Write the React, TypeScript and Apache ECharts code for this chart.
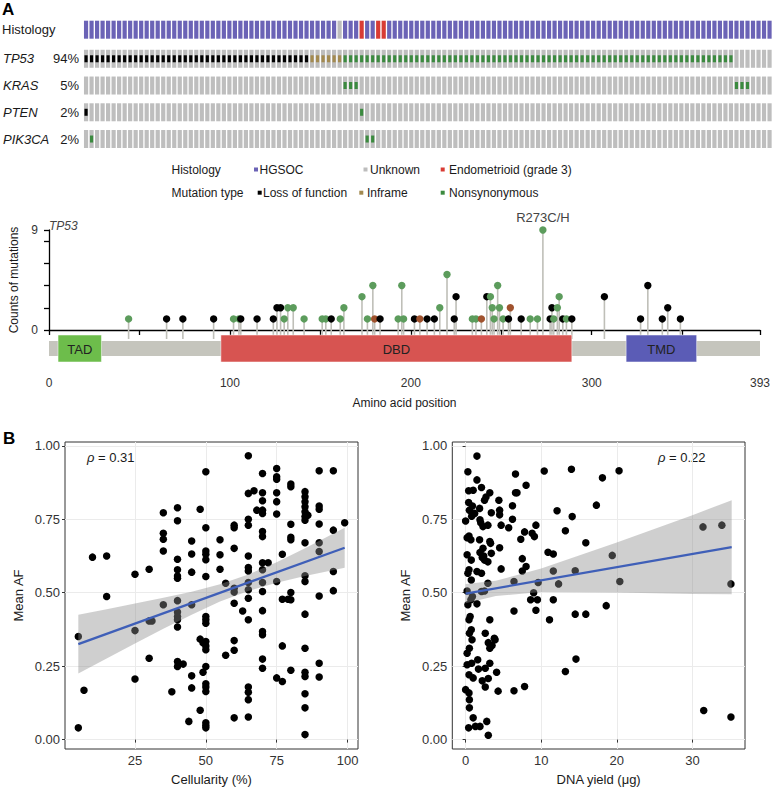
import React, { useEffect, useRef } from 'react';
import * as echarts from 'echarts';

const FONT = '"Liberation Sans", Arial, Helvetica, sans-serif';

// ---------------- Panel A (top): oncoprint ----------------
const geneNames = ['TP53', 'KRAS', 'PTEN', 'PIK3CA'];
// run-length encoded per-sample annotations (H = HGSOC, U = Unknown, E = Endometrioid grade 3)
const histologyRuns: [string, number][] = [['H', 46], ['U', 1], ['H', 3], ['E', 1], ['H', 2], ['E', 2], ['H', 70]];
// L = loss of function, I = inframe, N = nonsynonymous, '-' = not mutated
const tp53Runs: [string, number][] = [['L', 41], ['I', 6], ['N', 71], ['-', 7]];
const krasRuns: [string, number][] = [['-', 47], ['N', 3], ['-', 68], ['N', 3], ['-', 4]];
const ptenRuns: [string, number][] = [['L', 1], ['-', 49], ['N', 1], ['-', 74]];
const pik3caRuns: [string, number][] = [['-', 1], ['N', 1], ['-', 49], ['N', 2], ['-', 72]];

const histologyKeys = ['H', 'U', 'E'];
const histologyLabels = ['HGSOC', 'Unknown', 'Endometrioid (grade 3)'];
const mutationKeys = ['L', 'I', 'N'];
const mutationLabels = ['Loss of function', 'Inframe', 'Nonsynonymous'];
const histologyColors = ['#6b63b6', '#bdbdbd', '#d83b34'];
const mutationColors = ['#000000', '#a38a50', '#3b8a3f'];

// ---------------- Panel A (bottom): TP53 lollipop ----------------
const proteinLength = 393;
const domainNames = ['TAD', 'DBD', 'TMD'];
const domainStarts = [5, 95, 319];
const domainEnds = [29, 289, 358];
const domainColors = ['#6dbd4b', '#d75451', '#5b5cb6'];
// [amino acid position, count, type]
const tp53Mutations: [number, number, string][] = [
  [44, 1, 'N'], [65, 1, 'L'], [74, 1, 'L'], [91, 1, 'L'], [102, 1, 'N'], [105, 1, 'N'], [106, 1, 'L'],
  [115, 1, 'L'], [124, 1, 'L'], [126, 2, 'L'], [128, 2, 'L'], [130, 1, 'N'], [132, 2, 'N'], [135, 2, 'N'],
  [141, 1, 'N'], [151, 1, 'N'], [153, 1, 'N'], [156, 1, 'L'], [161, 1, 'N'], [163, 2, 'N'], [173, 3, 'N'],
  [176, 1, 'N'], [179, 4, 'N'], [180, 1, 'I'], [183, 1, 'L'], [193, 1, 'N'], [195, 4, 'N'], [196, 1, 'N'],
  [202, 1, 'L'], [205, 1, 'I'], [209, 1, 'L'], [213, 1, 'L'], [216, 2, 'N'], [220, 5, 'N'], [224, 1, 'L'],
  [225, 3, 'L'], [234, 1, 'N'], [236, 1, 'N'], [239, 1, 'I'], [242, 3, 'L'], [244, 3, 'N'], [245, 2, 'N'],
  [246, 1, 'N'], [248, 4, 'N'], [249, 2, 'N'], [251, 1, 'N'], [254, 1, 'L'], [255, 2, 'I'], [261, 1, 'L'],
  [266, 1, 'N'], [270, 1, 'N'], [273, 9, 'N'], [277, 1, 'L'], [278, 2, 'L'], [279, 1, 'N'], [281, 2, 'N'],
  [282, 3, 'N'], [284, 1, 'L'], [286, 1, 'N'], [289, 1, 'L'], [307, 3, 'L'], [327, 1, 'L'], [331, 4, 'L'],
  [339, 1, 'L'], [342, 2, 'L'], [349, 1, 'L'],
];
const lollipopColors = ['#000000', '#a0522d', '#5c9c5c'];
const hotspotLabels: [number, number, string][] = [[273, 9, 'R273C/H']];
const aaTicks = [0, 50, 100, 150, 200, 250, 300, 350, 393];
const aaLabels = [0, 100, 200, 300, 393];
const countTicks = [0, 2, 4, 6, 8, 9];
const countLabels = [0, 9];

// ---------------- Panel B: scatter plots ----------------
const cellularityGroups: [number, number[]][] = [
  [5, [0.351, 0.04]],
  [7, [0.168]],
  [10, [0.621]],
  [15, [0.625, 0.487]],
  [25, [0.563, 0.371, 0.206]],
  [30, [0.58, 0.404, 0.277]],
  [31, [0.404]],
  [35, [0.772, 0.702, 0.682, 0.642, 0.459]],
  [38, [0.163]],
  [40, [0.789, 0.745, 0.614, 0.578, 0.557, 0.549, 0.473, 0.434, 0.419, 0.408, 0.383, 0.266, 0.249]],
  [42, [0.257]],
  [44, [0.062]],
  [45, [0.676, 0.632, 0.57, 0.459, 0.217, 0.176]],
  [48, [0.784, 0.342, 0.1]],
  [49, [0.229, 0.33]],
  [50, [0.912, 0.721, 0.642, 0.631, 0.612, 0.555, 0.419, 0.408, 0.396, 0.334, 0.319, 0.306, 0.249, 0.19, 0.179, 0.164, 0.057, 0.048, 0.04]],
  [55, [0.68, 0.629, 0.58]],
  [57, [0.532, 0.287]],
  [60, [0.73, 0.721, 0.651, 0.515, 0.502, 0.464, 0.337, 0.304, 0.074]],
  [63, [0.438]],
  [65, [0.966, 0.838, 0.75, 0.73, 0.625, 0.586, 0.574, 0.535, 0.51, 0.481, 0.408, 0.179, 0.161, 0.136, 0.077]],
  [67, [0.847]],
  [68, [0.781]],
  [70, [0.906, 0.84, 0.813, 0.781, 0.77, 0.708, 0.691, 0.602, 0.578, 0.535, 0.504, 0.439, 0.368, 0.357, 0.274, 0.243]],
  [72, [0.602]],
  [75, [0.923, 0.895, 0.886, 0.84, 0.81, 0.768, 0.538, 0.21]],
  [77, [0.631, 0.478, 0.319, 0.198]],
  [79, [0.478]],
  [80, [0.87, 0.861, 0.733, 0.689, 0.68, 0.501, 0.476, 0.236]],
  [85, [0.844, 0.827, 0.81, 0.793, 0.776, 0.759, 0.747, 0.67, 0.558, 0.538, 0.427, 0.311, 0.229, 0.215, 0.156, 0.108, 0.017]],
  [86, [0.764]],
  [90, [0.915, 0.795, 0.784, 0.734, 0.67, 0.64, 0.489, 0.26, 0.213]],
  [95, [0.915, 0.713, 0.572, 0.507]],
  [99, [0.738]],
];
const cellularityFit: [number, number][] = [[5, 0.325], [99, 0.653]];
const cellularityBandX = [5, 15, 25, 35, 45, 55, 65, 75, 85, 99];
const cellularityBandLow = [0.225, 0.276, 0.327, 0.377, 0.425, 0.47, 0.506, 0.534, 0.557, 0.585];
const cellularityBandHigh = [0.425, 0.444, 0.463, 0.483, 0.503, 0.529, 0.562, 0.604, 0.651, 0.721];

const dnaYieldPoints: [number, number][] = [
  [0.0, 0.744], [0.3, 0.912], [0.4, 0.847], [0.4, 0.807], [0.5, 0.781], [0.2, 0.687], [0.45, 0.693], [0.2, 0.629],
  [0.3, 0.566], [0.45, 0.578], [0.2, 0.506], [0.3, 0.459], [0.45, 0.408], [0.5, 0.362], [0.5, 0.311], [0.2, 0.294],
  [0.2, 0.255], [0.45, 0.221], [0.0, 0.17], [0.45, 0.159], [0.5, 0.136], [0.5, 0.108], [0.4, 0.04],
  [1.0, 0.849], [0.9, 0.795], [1.2, 0.77], [0.8, 0.76], [0.7, 0.68], [0.75, 0.611], [0.75, 0.543], [0.9, 0.487],
  [0.7, 0.476], [0.6, 0.419], [0.75, 0.374], [0.85, 0.34], [0.8, 0.26], [1.0, 0.21], [1.0, 0.074], [1.3, 0.045],
  [1.5, 0.965], [1.5, 0.884], [1.5, 0.572], [1.5, 0.462], [1.6, 0.272], [1.7, 0.24], [1.85, 0.787], [1.85, 0.68],
  [2.1, 0.858], [1.9, 0.748], [2.0, 0.738], [1.9, 0.637], [2.1, 0.566], [2.1, 0.504], [2.2, 0.62], [2.2, 0.2],
  [1.9, 0.045], [2.3, 0.725], [2.3, 0.651], [2.4, 0.625], [2.5, 0.815], [2.5, 0.611], [2.5, 0.506], [2.6, 0.362],
  [2.6, 0.243], [2.6, 0.179], [2.7, 0.826], [2.8, 0.062], [2.95, 0.73], [2.95, 0.532], [2.95, 0.605], [3.0, 0.33],
  [3.0, 0.208], [3.0, 0.015], [3.2, 0.84], [3.2, 0.674], [3.2, 0.408], [3.2, 0.311], [3.2, 0.26], [3.3, 0.668],
  [3.4, 0.772], [3.4, 0.634], [3.5, 0.32], [3.8, 0.345], [3.9, 0.34], [4.1, 0.229], [4.3, 0.165], [4.4, 0.815],
  [4.5, 0.781], [4.5, 0.765], [4.5, 0.653], [4.7, 0.73], [4.7, 0.581],
  [5.7, 0.721], [6.2, 0.796], [6.2, 0.75], [6.4, 0.438], [6.4, 0.538], [6.4, 0.166], [6.6, 0.904], [6.6, 0.84],
  [6.8, 0.84], [7.3, 0.682], [7.5, 0.616], [7.5, 0.574], [7.8, 0.707], [7.8, 0.181], [8.0, 0.866], [8.0, 0.589],
  [8.6, 0.476], [8.8, 0.702], [9.0, 0.5], [9.1, 0.691], [9.3, 0.73], [9.3, 0.44], [9.5, 0.476], [9.6, 0.535],
  [10.4, 0.914], [10.9, 0.638], [11.1, 0.408], [11.6, 0.574], [11.6, 0.632], [11.6, 0.476], [12.1, 0.779],
  [12.3, 0.53], [13.2, 0.711], [13.2, 0.232], [14.0, 0.92], [14.1, 0.759], [14.5, 0.575], [14.5, 0.427],
  [14.6, 0.274], [15.9, 0.67], [15.9, 0.427], [17.3, 0.798], [18.1, 0.891], [18.6, 0.456], [19.4, 0.627],
  [20.3, 0.915], [20.4, 0.538], [31.4, 0.724], [31.5, 0.099], [33.9, 0.73], [35.1, 0.53], [35.1, 0.077],
];
const dnaYieldFit: [number, number][] = [[0, 0.497], [35.2, 0.655]];
const dnaYieldBandX = [0, 4, 10, 20, 30, 35.2];
const dnaYieldBandLow = [0.464, 0.489, 0.502, 0.501, 0.496, 0.495];
const dnaYieldBandHigh = [0.53, 0.541, 0.582, 0.671, 0.764, 0.815];

const afTicks = [0, 0.25, 0.5, 0.75, 1];
const cellularityTicks = [25, 50, 75, 100];
const dnaYieldTicks = [0, 10, 20, 30];

function expandRuns(runs: [string, number][]): string[] {
  const out: string[] = [];
  runs.forEach(([code, n]) => {
    for (let i = 0; i < n; i++) out.push(code);
  });
  return out;
}

function buildOption(): any {
  const histCodes = expandRuns(histologyRuns);
  const geneCodes = [tp53Runs, krasRuns, ptenRuns, pik3caRuns].map(expandRuns);
  const sampleIds = histCodes.map((_, i) => String(i));
  const histData = histCodes.map((c, i) => [i, 0, histologyKeys.indexOf(c)]);
  const geneData: number[][] = [];
  geneCodes.forEach((codes, r) => codes.forEach((c, i) => geneData.push([i, r, mutationKeys.indexOf(c)])));
  const pct = geneCodes.map((codes) => Math.round((100 * codes.filter((c) => c !== '-').length) / codes.length) + '%');

  const lolliData = tp53Mutations.map(([p, n, t]) => [p, n, mutationKeys.indexOf(t)]);
  const cellPoints: number[][] = [];
  cellularityGroups.forEach(([x, ys]) => ys.forEach((y) => cellPoints.push([x, y])));

  const txt = (text: string, x: number, y: number, extra: any = {}) => ({
    type: 'text',
    x,
    y,
    style: { text, fontFamily: FONT, fontSize: 13, fill: '#1a1a1a', align: 'left', verticalAlign: 'middle', ...extra },
  });

  const onco = (data: number[][], isHist: boolean, gridX: number, gridY: number) => ({
    type: 'custom',
    xAxisIndex: gridX,
    yAxisIndex: gridY,
    data,
    renderItem: (params: any, api: any) => {
      const col = api.value(0);
      const row = api.value(1);
      const code = api.value(2);
      const c = api.coord([col, row]);
      const s = api.size([1, 1]);
      const w = s[0] * 0.76;
      const h = 18;
      const children: any[] = [
        {
          type: 'rect',
          shape: { x: c[0] - w / 2, y: c[1] - h / 2, width: w, height: h },
          style: { fill: isHist ? histologyColors[code] : '#bebebe' },
        },
      ];
      if (!isHist && code >= 0) {
        children.push({
          type: 'rect',
          shape: { x: c[0] - 1.6, y: c[1] - 3.5, width: 3.2, height: 7 },
          style: { fill: mutationColors[code] },
        });
      }
      return { type: 'group', children };
    },
  });

  const legendEls: any[] = [];
  const histLegendX = [[254, 259.5], [363.5, 370], [440.7, 449]];
  const mutLegendX = [[257.7, 263], [359.3, 367], [440.7, 449]];
  legendEls.push(txt('Histology', 171.5, 169.5, { fontSize: 12 }));
  legendEls.push(txt('Mutation type', 171.5, 192.7, { fontSize: 12 }));
  histologyLabels.forEach((l, i) => {
    legendEls.push({ type: 'rect', shape: { x: histLegendX[i][0], y: 167.5, width: 4, height: 4 }, style: { fill: histologyColors[i] } });
    legendEls.push(txt(l, histLegendX[i][1], 169.5, { fontSize: 12 }));
  });
  mutationLabels.forEach((l, i) => {
    legendEls.push({ type: 'rect', shape: { x: mutLegendX[i][0], y: 190.7, width: 4, height: 4 }, style: { fill: mutationColors[i] } });
    legendEls.push(txt(l, mutLegendX[i][1], 192.7, { fontSize: 12 }));
  });

  const scatterAxisCommon = {
    axisLine: { show: false },
    axisTick: { show: true, length: 3, lineStyle: { color: '#333', width: 1 } },
    axisLabel: { fontFamily: FONT, fontSize: 13, color: '#333', margin: 5 },
    splitLine: { show: true, lineStyle: { color: '#ebebeb', width: 1 } },
    nameTextStyle: { fontFamily: FONT, fontSize: 13, color: '#1a1a1a' },
    nameLocation: 'middle',
  };

  const band = (xs: number[], lo: number[], hi: number[], gi: number) => ({
    type: 'custom',
    xAxisIndex: gi,
    yAxisIndex: gi,
    data: [[xs[0], lo[0]]],
    clip: true,
    z: 3,
    renderItem: (params: any, api: any) => {
      const pts: number[][] = [];
      xs.forEach((x, i) => pts.push(api.coord([x, hi[i]])));
      for (let i = xs.length - 1; i >= 0; i--) pts.push(api.coord([xs[i], lo[i]]));
      return { type: 'polygon', shape: { points: pts }, style: { fill: '#8c8c8c', opacity: 0.42 } };
    },
  });

  return {
    animation: false,
    backgroundColor: '#ffffff',
    textStyle: { fontFamily: FONT },
    grid: [
      { left: 83.3, top: 16.2, width: 689, height: 27 },
      { left: 83.3, top: 45.4, width: 689, height: 107 },
      { left: 44, top: 230, width: 718, height: 100 },
      { left: 65, top: 442, width: 293, height: 307, show: true, borderColor: '#333', borderWidth: 1 },
      { left: 452.3, top: 442, width: 292.7, height: 307, show: true, borderColor: '#333', borderWidth: 1 },
    ],
    xAxis: [
      { gridIndex: 0, type: 'category', data: sampleIds, show: false },
      { gridIndex: 1, type: 'category', data: sampleIds, show: false },
      {
        gridIndex: 2,
        type: 'value',
        min: 0,
        max: proteinLength,
        offset: 39,
        axisLine: { show: true, lineStyle: { color: '#000', width: 1.3 } },
        axisTick: { show: true, customValues: aaTicks, length: 5, lineStyle: { color: '#000', width: 1.3 } },
        axisLabel: { customValues: aaLabels, fontFamily: FONT, fontSize: 12, color: '#333', margin: 8 },
        splitLine: { show: false },
        name: 'Amino acid position',
        nameLocation: 'middle',
        nameGap: 28,
        nameTextStyle: { fontFamily: FONT, fontSize: 12, color: '#1a1a1a' },
      },
      {
        gridIndex: 3,
        type: 'value',
        min: 0.3,
        max: 103.7,
        ...scatterAxisCommon,
        axisTick: { ...scatterAxisCommon.axisTick, customValues: cellularityTicks },
        axisLabel: { ...scatterAxisCommon.axisLabel, customValues: cellularityTicks },
        name: 'Cellularity (%)',
        nameGap: 24,
      },
      {
        gridIndex: 4,
        type: 'value',
        min: -1.76,
        max: 36.96,
        ...scatterAxisCommon,
        axisTick: { ...scatterAxisCommon.axisTick, customValues: dnaYieldTicks },
        axisLabel: { ...scatterAxisCommon.axisLabel, customValues: dnaYieldTicks },
        name: 'DNA yield (μg)',
        nameGap: 24,
      },
    ],
    yAxis: [
      { gridIndex: 0, type: 'category', data: ['Histology'], show: false },
      { gridIndex: 1, type: 'category', data: geneNames, inverse: true, show: false },
      {
        gridIndex: 2,
        type: 'value',
        min: 0,
        max: 9,
        offset: 5,
        axisLine: { show: true, lineStyle: { color: '#000', width: 1.3 } },
        axisTick: { show: true, customValues: countTicks, length: 5, lineStyle: { color: '#000', width: 1.3 } },
        axisLabel: { customValues: countLabels, fontFamily: FONT, fontSize: 12, color: '#333', margin: 6 },
        splitLine: { show: false },
        name: 'Counts of mutations',
        nameLocation: 'middle',
        nameGap: 24,
        nameTextStyle: { fontFamily: FONT, fontSize: 12, color: '#1a1a1a' },
      },
      {
        gridIndex: 3,
        type: 'value',
        min: -0.032,
        max: 1.013,
        ...scatterAxisCommon,
        axisTick: { ...scatterAxisCommon.axisTick, customValues: afTicks },
        axisLabel: { ...scatterAxisCommon.axisLabel, customValues: afTicks, formatter: (v: number) => v.toFixed(2) },
        name: 'Mean AF',
        nameGap: 40,
      },
      {
        gridIndex: 4,
        type: 'value',
        min: -0.032,
        max: 1.013,
        ...scatterAxisCommon,
        axisTick: { ...scatterAxisCommon.axisTick, customValues: afTicks },
        axisLabel: { ...scatterAxisCommon.axisLabel, customValues: afTicks, formatter: (v: number) => v.toFixed(2) },
        name: 'Mean AF',
        nameGap: 40,
      },
    ],
    graphic: [
      txt('A', 2, 9, { fontSize: 17, fontWeight: 'bold', fill: '#000' }),
      txt('B', 3, 438, { fontSize: 17, fontWeight: 'bold', fill: '#000' }),
      txt('TP53', 49, 226, { fontSize: 12, fontStyle: 'italic', fill: '#444' }),
      {
        type: 'text',
        x: 87,
        y: 457,
        style: {
          text: '{i|ρ} = 0.31',
          fontFamily: FONT,
          fontSize: 13,
          fill: '#1a1a1a',
          verticalAlign: 'middle',
          rich: { i: { fontStyle: 'italic', fontFamily: FONT, fontSize: 13, fill: '#1a1a1a' } },
        },
      },
      {
        type: 'text',
        x: 658,
        y: 457,
        style: {
          text: '{i|ρ} = 0.22',
          fontFamily: FONT,
          fontSize: 13,
          fill: '#1a1a1a',
          verticalAlign: 'middle',
          rich: { i: { fontStyle: 'italic', fontFamily: FONT, fontSize: 13, fill: '#1a1a1a' } },
        },
      },
      ...legendEls,
    ],
    series: [
      onco(histData, true, 0, 0),
      onco(geneData, false, 1, 1),
      {
        type: 'custom',
        xAxisIndex: 0,
        yAxisIndex: 0,
        data: [[0, 0]],
        renderItem: (params: any, api: any) => {
          const c = api.coord([0, 0]);
          return txt('Histology', 2, c[1]);
        },
      },
      {
        type: 'custom',
        xAxisIndex: 1,
        yAxisIndex: 1,
        data: geneNames.map((_, r) => [0, r]),
        renderItem: (params: any, api: any) => {
          const r = api.value(1);
          const c = api.coord([0, r]);
          return {
            type: 'group',
            children: [
              txt(geneNames[r], 3, c[1], { fontStyle: 'italic' }),
              txt(pct[r], 79, c[1], { align: 'right' }),
            ],
          };
        },
      },
      // lollipop stems
      {
        type: 'custom',
        xAxisIndex: 2,
        yAxisIndex: 2,
        data: lolliData,
        clip: false,
        z: 2,
        renderItem: (params: any, api: any) => {
          const top = api.coord([api.value(0), api.value(1)]);
          const base = api.coord([api.value(0), 0]);
          return {
            type: 'line',
            shape: { x1: top[0], y1: base[1] + 9, x2: top[0], y2: top[1] },
            style: { stroke: '#bfbfb8', lineWidth: 1.6 },
          };
        },
      },
      // protein backbone and domains
      {
        type: 'custom',
        xAxisIndex: 2,
        yAxisIndex: 2,
        data: [[0, proteinLength, -1], ...domainNames.map((_, i) => [domainStarts[i], domainEnds[i], i])],
        clip: false,
        z: 3,
        renderItem: (params: any, api: any) => {
          const a = api.coord([api.value(0), 0]);
          const b = api.coord([api.value(1), 0]);
          const idx = api.value(2);
          if (idx < 0) {
            return {
              type: 'rect',
              shape: { x: a[0], y: a[1] + 11, width: b[0] - a[0], height: 15 },
              style: { fill: '#c5c5bd' },
            };
          }
          return {
            type: 'group',
            children: [
              {
                type: 'rect',
                shape: { x: a[0], y: a[1] + 5, width: b[0] - a[0], height: 27 },
                style: { fill: domainColors[idx], stroke: 'rgba(255,255,255,0.5)', lineWidth: 1 },
              },
              {
                type: 'text',
                x: (a[0] + b[0]) / 2,
                y: a[1] + 19,
                style: {
                  text: domainNames[idx],
                  fontFamily: FONT,
                  fontSize: 13,
                  fill: '#222',
                  align: 'center',
                  verticalAlign: 'middle',
                },
              },
            ],
          };
        },
      },
      // lollipop heads
      {
        type: 'custom',
        xAxisIndex: 2,
        yAxisIndex: 2,
        data: lolliData,
        clip: false,
        z: 4,
        renderItem: (params: any, api: any) => {
          const p = api.coord([api.value(0), api.value(1)]);
          return {
            type: 'circle',
            shape: { cx: p[0], cy: p[1], r: 3.7 },
            style: { fill: lollipopColors[api.value(2)] },
          };
        },
      },
      {
        type: 'custom',
        xAxisIndex: 2,
        yAxisIndex: 2,
        data: hotspotLabels.map(([p, n]) => [p, n]),
        clip: false,
        z: 5,
        renderItem: (params: any, api: any) => {
          const p = api.coord([api.value(0), api.value(1)]);
          return {
            type: 'text',
            x: p[0],
            y: p[1] - 13,
            style: {
              text: hotspotLabels[params.dataIndex][2],
              fontFamily: FONT,
              fontSize: 13,
              fill: '#444',
              align: 'center',
              verticalAlign: 'middle',
            },
          };
        },
      },
      // Panel B left
      {
        type: 'scatter',
        xAxisIndex: 3,
        yAxisIndex: 3,
        data: cellPoints,
        symbolSize: 7.5,
        itemStyle: { color: '#000', opacity: 1 },
        z: 2,
      },
      band(cellularityBandX, cellularityBandLow, cellularityBandHigh, 3),
      {
        type: 'line',
        xAxisIndex: 3,
        yAxisIndex: 3,
        data: cellularityFit,
        symbol: 'none',
        lineStyle: { color: '#3f5fb8', width: 2.3 },
        z: 4,
      },
      // Panel B right
      {
        type: 'scatter',
        xAxisIndex: 4,
        yAxisIndex: 4,
        data: dnaYieldPoints,
        symbolSize: 7.5,
        itemStyle: { color: '#000', opacity: 1 },
        z: 2,
      },
      band(dnaYieldBandX, dnaYieldBandLow, dnaYieldBandHigh, 4),
      {
        type: 'line',
        xAxisIndex: 4,
        yAxisIndex: 4,
        data: dnaYieldFit,
        symbol: 'none',
        lineStyle: { color: '#3f5fb8', width: 2.3 },
        z: 4,
      },
    ],
  };
}

export default function App() {
  const ref = useRef<HTMLDivElement>(null);
  useEffect(() => {
    if (!ref.current) return;
    const chart = echarts.init(ref.current, undefined, { renderer: 'svg' });
    chart.setOption(buildOption());
    return () => chart.dispose();
  }, []);
  return (
    <div
      ref={ref}
      style={{ position: 'absolute', left: 0, top: 0, width: 773, height: 791, background: '#ffffff' }}
    />
  );
}
